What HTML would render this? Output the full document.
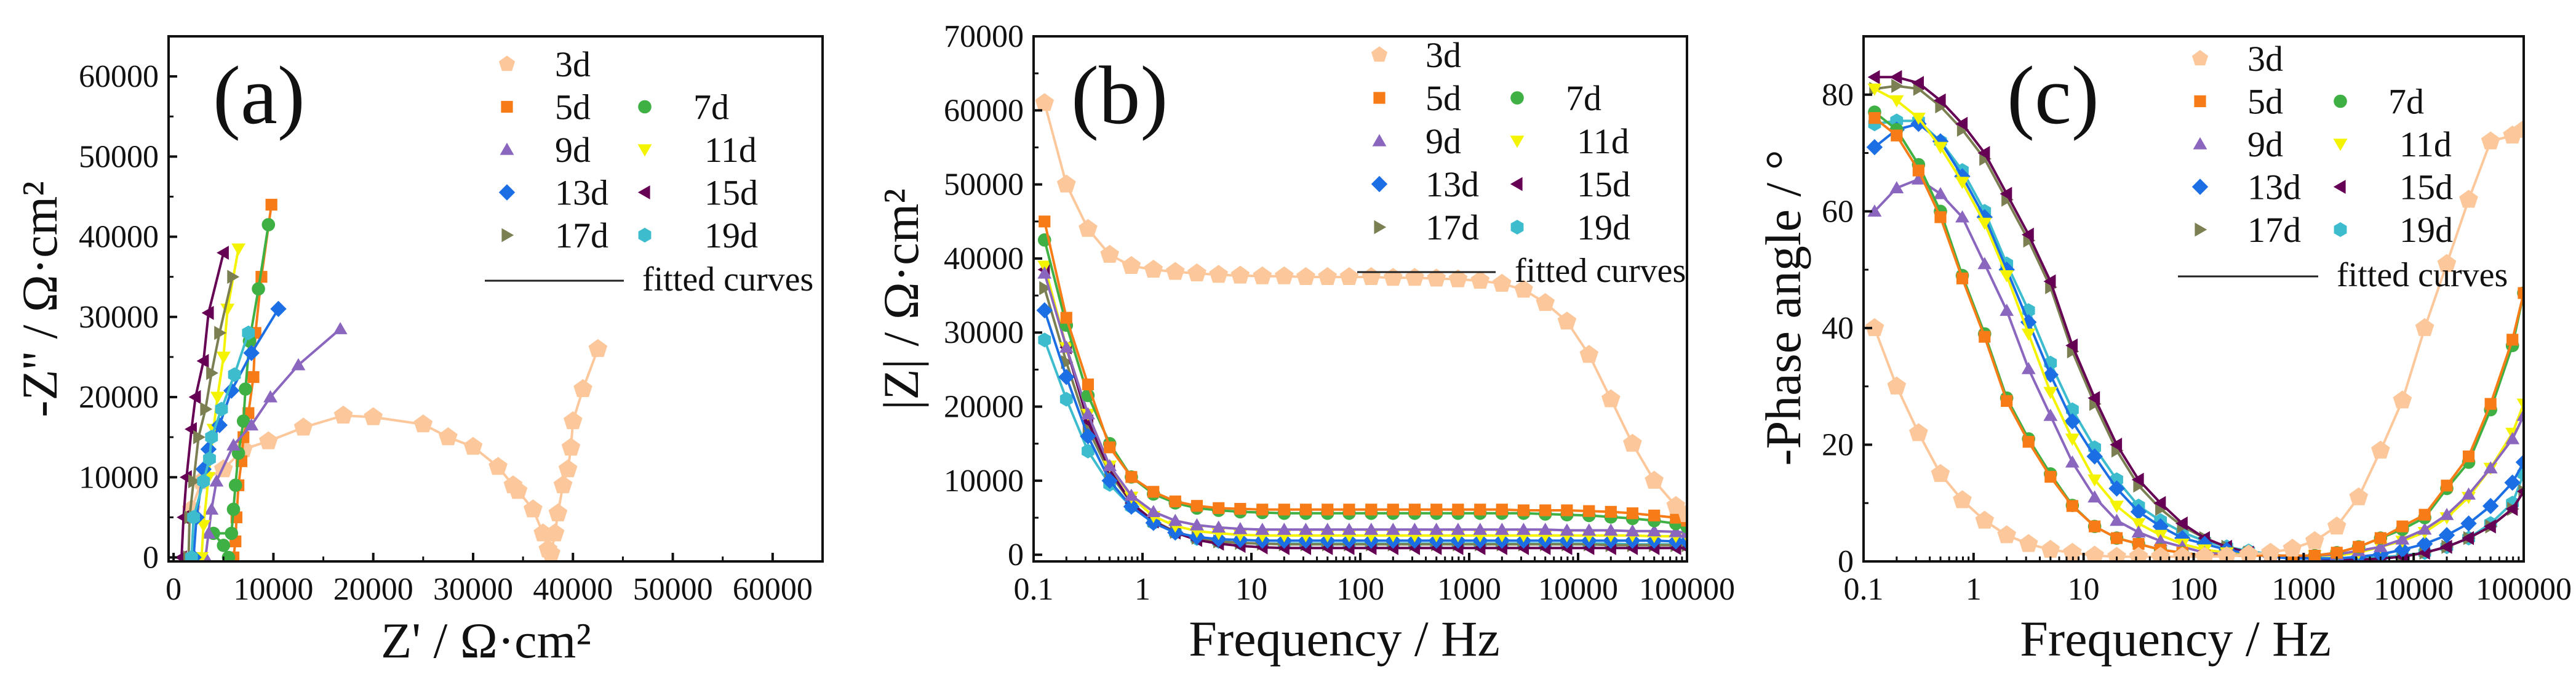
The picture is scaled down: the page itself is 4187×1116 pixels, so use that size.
<!DOCTYPE html>
<html><head><meta charset="utf-8"><style>
html,body{margin:0;padding:0;background:#fff;}
svg{display:block;}
svg text{font-family:"Liberation Serif","Times New Roman",Times,"DejaVu Serif",serif !important;}
</style></head><body>
<svg id="fig" width="4187" height="1116" viewBox="0 0 4187 1116" xmlns="http://www.w3.org/2000/svg"></svg>
<script>
// ---------- data ----------
const seriesNames=['3d','5d','7d','9d','11d','13d','15d','17d','19d'];
const freqs=[0.126,0.2,0.316,0.5,0.79,1.26,2,3.16,5,7.9,12.6,20,31.6,50,79,126,200,316,500,790,1260,2000,3160,5000,7900,12600,20000,31600,50000,79000,100000];
// |Z| in kOhm·cm2
const zMod3d=[61,50,44,40.5,39,38.5,38.2,38,37.8,37.7,37.6,37.6,37.5,37.5,37.5,37.5,37.4,37.4,37.3,37.2,37,36.6,35.8,34,31.5,27,21,15,10,6.6,5.5];
const zMod5d=[45,32,23,14.5,10.5,8.5,7.2,6.6,6.3,6.2,6.1,6.1,6.1,6.1,6.1,6.1,6.1,6.1,6.1,6.1,6.1,6.1,6.0,6.0,6.0,5.9,5.8,5.6,5.3,5.0,4.6];
const zMod7d=[42.5,31,21.5,15,10.5,8.2,7,6.3,6,5.8,5.7,5.6,5.6,5.6,5.6,5.6,5.6,5.6,5.6,5.6,5.6,5.6,5.6,5.5,5.4,5.3,5.1,4.9,4.6,4.2,3.8];
const zMod9d=[38,28,19,12,8,5.8,4.6,4,3.7,3.5,3.4,3.4,3.4,3.4,3.4,3.4,3.4,3.4,3.4,3.4,3.4,3.4,3.4,3.4,3.3,3.3,3.3,3.2,3.2,3.1,3.0];
const zMod11d=[39,28,19,12,7.8,5.2,3.9,3.2,2.9,2.7,2.6,2.6,2.6,2.6,2.6,2.6,2.6,2.6,2.6,2.6,2.6,2.6,2.6,2.6,2.6,2.6,2.6,2.6,2.5,2.5,2.5];
const zMod13d=[33,24,16,10,6.5,4.3,3,2.4,2.1,2,1.9,1.9,1.9,1.9,1.9,1.9,1.9,1.9,1.9,1.9,1.9,1.9,1.9,1.9,1.9,1.9,1.9,1.9,1.9,1.8,1.8];
const zMod15d=[38.5,28,18,11.5,7,4.5,3,2,1.5,1.2,1,0.9,0.9,0.9,0.9,0.9,0.9,0.9,0.9,0.9,0.9,0.9,0.9,0.9,0.9,0.9,0.9,0.9,0.9,0.9,0.9];
const zMod17d=[36,26,17,11,7,4.6,3.1,2.3,1.8,1.6,1.5,1.4,1.4,1.4,1.4,1.4,1.4,1.4,1.4,1.4,1.4,1.4,1.4,1.4,1.4,1.4,1.3,1.3,1.3,1.3,1.3];
const zMod19d=[29,21,14,9.5,6.5,4.3,3,2.2,1.8,1.6,1.5,1.5,1.5,1.5,1.5,1.5,1.5,1.5,1.5,1.5,1.5,1.5,1.5,1.5,1.5,1.5,1.5,1.4,1.4,1.4,1.4];
// -phase in degrees
const phase3d=[40,30,22,15,10.5,7,4.5,3,2,1.5,1,0.8,0.8,0.8,0.8,0.8,0.9,1.2,1.5,2.2,3.5,6,11,19,27.6,40,51,62,72,73,74];
const phase5d=[76,73,67,59,48.5,38.5,27.5,20.5,14.5,9.5,6,4,3,2,1.5,1,1,1,1,1,1,1.5,2.5,4,6,8,13,18,27,38,46];
const phase7d=[77,74,68,60,49,39,28,21,15,9.6,6,4,3,2,1.5,1,1,1,1,1,1,1.5,2.5,4,5.5,7.5,12.5,17,26,37,46];
const phase9d=[60,64,65.5,63,59,51,43,33,25,17,11,7,5,3.5,2.5,1.5,1.2,1,1,1,1,1.2,1.8,2.5,3.8,5.5,8,11.5,16,21,25];
const phase11d=[81,79,76,71,65,58,49,39,29,21,14,9.5,6.5,4.5,3,2,1.5,1,1,1,1,1,1.5,2.5,3.5,5,7.5,11,16,22,27];
const phase13d=[71,74,75,72,66,59,50,41,32,24,18,12.5,8.5,6,4,3,2,1.3,0.8,0.5,0.5,0.5,0.8,1.2,2,3,4.5,6.5,9.5,13.5,17];
const phase15d=[83,83,82,79,75,70,63,56,48,37,28,20,14,10,6.5,4,2.5,1.5,1,0.6,0.5,0.3,0.3,0.5,0.8,1.5,2.5,4,6,9,12];
const phase17d=[81,81.5,81,78,74,69,62,55,47,36,27,19,13,9,6,4,2.5,1.5,1,0.6,0.5,0.3,0.3,0.5,0.8,1.5,2.5,4,6,9,12];
const phase19d=[75,75.5,75.5,72,67,60,51,43,34,26,19.5,14,9.5,7,5,3.5,2.5,1.8,1.2,0.8,0.6,0.5,0.5,0.7,1,1.5,2.5,4,6.5,10,15];
// Nyquist (kOhm·cm2)
const nyqX3d=[1.8,2.8,5,7,9.5,13,17,20,25,27.5,30,32.5,34,34.5,36,37,37.5,37.8,38.2,38.5,39,39.5,39.8,40,41,42.5];
const nyqY3d=[6,9.5,11,13.5,14.5,16.2,17.7,17.5,16.6,15,13.8,11.3,9,8.3,6,3,1,0.5,3,5.5,9,11,13.7,17,21,26];
const nyqX5d=[6,6.2,6.3,6.5,6.8,7,7.5,8,8.2,8.8,9.8];
const nyqY5d=[0,2,5,9,12,15,18,22.5,28,35,44];
const nyqX7d=[5.5,5,4,5.8,6,6.2,6.5,7,7.2,7.6,8.5,9.5];
const nyqY7d=[0,1.5,3,3,6,9,13,17,21,27,33.5,41.5];
const nyqX9d=[3.2,3.5,3.8,4.3,6,7.8,9.7,12.5,16.7];
const nyqY9d=[0,3,6,9.5,14,16.5,20,24,28.5];
const nyqX11d=[2.8,3,3.5,4,4.4,5,5.4,6.5];
const nyqY11d=[0,4,10,16,20,25,31,38.5];
const nyqX13d=[2,2.3,3,3.5,4.6,5.8,7.8,10.5];
const nyqY13d=[0,5,11,13.5,16.5,20.8,25.5,31];
const nyqX15d=[0.8,1,1.3,1.8,2.2,3,3.5,5];
const nyqY15d=[0,5,10,16,20,24.5,30.5,38];
const nyqX17d=[1.5,1.6,2,2.5,3.2,3.8,4.6,5.9];
const nyqY17d=[0,5,9.5,15,18.5,23,28,35];
const nyqX19d=[1.8,2,3,3.6,3.8,4.8,6.1,7.5];
const nyqY19d=[0,5,9.5,12.3,15,18.5,22.8,28];
const xTicksA=[0,10000,20000,30000,40000,50000,60000];
const yTicksA=[0,10000,20000,30000,40000,50000,60000];
const yTicksB=[0,10000,20000,30000,40000,50000,60000,70000];
const xTicksLog=[0.1,1,10,100,1000,10000,100000];
const yTicksC=[0,20,40,60,80];

const zModAll=[zMod3d,zMod5d,zMod7d,zMod9d,zMod11d,zMod13d,zMod15d,zMod17d,zMod19d];
const phaseAll=[phase3d,phase5d,phase7d,phase9d,phase11d,phase13d,phase15d,phase17d,phase19d];
const nyqXAll=[nyqX3d,nyqX5d,nyqX7d,nyqX9d,nyqX11d,nyqX13d,nyqX15d,nyqX17d,nyqX19d];
const nyqYAll=[nyqY3d,nyqY5d,nyqY7d,nyqY9d,nyqY11d,nyqY13d,nyqY15d,nyqY17d,nyqY19d];
const colors=['#fcc79a','#f77c17','#3fb043','#8a66bf','#f4f400','#1c6ee4','#650054','#7b7f52','#3cbccd'];
const shapes=['pent','sq','circ','tri','tridown','diam','left','right','hex'];

// ---------- helpers ----------
const NS='http://www.w3.org/2000/svg';
const svg=document.getElementById('fig');
const FONT='"Liberation Serif","Times New Roman",Times,"DejaVu Serif",serif';
function mk(tag,attrs,parent){const e=document.createElementNS(NS,tag);for(const k in attrs)e.setAttribute(k,attrs[k]);(parent||svg).appendChild(e);return e;}
function poly(cx,cy,r,n,rot){let p=[];for(let i=0;i<n;i++){const a=rot+i*2*Math.PI/n;p.push((cx+r*Math.cos(a)).toFixed(1)+','+(cy+r*Math.sin(a)).toFixed(1));}return p.join(' ');}
function marker(shape,cx,cy,s,color,parent){
  let e;
  if(shape==='circ'){e=mk('circle',{cx:cx,cy:cy,r:s*0.9,fill:color},parent);}
  else if(shape==='sq'){e=mk('rect',{x:cx-s*0.8,y:cy-s*0.8,width:s*1.6,height:s*1.6,fill:color},parent);}
  else if(shape==='pent'){e=mk('polygon',{points:poly(cx,cy,s*1.15,5,-Math.PI/2),fill:color},parent);}
  else if(shape==='hex'){e=mk('polygon',{points:poly(cx,cy,s,6,Math.PI/6),fill:color},parent);}
  else if(shape==='tri'){e=mk('polygon',{points:poly(cx,cy+2,s*1.1,3,-Math.PI/2),fill:color},parent);}
  else if(shape==='tridown'){e=mk('polygon',{points:poly(cx,cy-2,s*1.1,3,Math.PI/2),fill:color},parent);}
  else if(shape==='left'){e=mk('polygon',{points:poly(cx+2,cy,s*1.1,3,Math.PI),fill:color},parent);}
  else if(shape==='right'){e=mk('polygon',{points:poly(cx-2,cy,s*1.1,3,0),fill:color},parent);}
  else {e=mk('polygon',{points:poly(cx,cy,s*1.1,4,0),fill:color},parent);}
  return e;
}
function txt(x,y,s,size,anchor,parent,extra){const e=mk('text',Object.assign({x:x,y:y,'font-size':size,'text-anchor':anchor||'start',fill:'#111'},extra||{}),parent);e.style.fontFamily=FONT;e.textContent=s;return e;}

function makePanel(id,P){
  const g=mk('g',{});
  
  
  const clip=mk('clipPath',{id:'clip-'+id},g);
  mk('rect',{x:P.x0,y:P.y0,width:P.x1-P.x0,height:P.y1-P.y0},clip);
  return g;
}
function axisFns(P){
  const sx=P.log?(v=>P.x0+(Math.log10(v)-Math.log10(P.xmin))/(Math.log10(P.xmax)-Math.log10(P.xmin))*(P.x1-P.x0))
                :(v=>P.x0+(v-P.xmin)/(P.xmax-P.xmin)*(P.x1-P.x0));
  const sy=v=>P.y1-(v-P.ymin)/(P.ymax-P.ymin)*(P.y1-P.y0);
  return [sx,sy];
}
function drawFrame(g,P,sx,sy,xt,yt,yMinorStep,xLabelFmt){
  const ax=mk('g',{},g);
  
  
  xt.forEach(v=>{const x=sx(v);mk('line',{x1:x,x2:x,y1:P.y1,y2:P.y1-14,stroke:'#111','stroke-width':4},ax);
    const t=txt(x,P.y1+62,xLabelFmt(v),52,'middle',ax);
    
    });
  if(P.log){for(let d=Math.log10(P.xmin);d<Math.log10(P.xmax);d++){for(let k=2;k<10;k++){const x=sx(k*Math.pow(10,d));mk('line',{x1:x,x2:x,y1:P.y1,y2:P.y1-8,stroke:'#111','stroke-width':3},ax);}}}
  else{for(let i=0;i<xt.length-1;i++){const x=sx((xt[i]+xt[i+1])/2);mk('line',{x1:x,x2:x,y1:P.y1,y2:P.y1-8,stroke:'#111','stroke-width':3},ax);}}
  yt.forEach(v=>{const y=sy(v);mk('line',{x1:P.x0,x2:P.x0+14,y1:y,y2:y,stroke:'#111','stroke-width':4},ax);
    const t=txt(P.x0-16,y+17,String(v),52,'end',ax);
    
    });
  for(let v=yt[0]+yMinorStep;v<P.ymax;v+=yMinorStep*2){const y=sy(v);mk('line',{x1:P.x0,x2:P.x0+8,y1:y,y2:y,stroke:'#111','stroke-width':3},ax);}
  mk('rect',{x:P.x0,y:P.y0,width:P.x1-P.x0,height:P.y1-P.y0,fill:'none',stroke:'#111','stroke-width':4},ax);
}
function drawLegend(g,L){
  const lg=mk('g',{},g);
  
  
  const slots=[[0,0],[1,0],[1,1],[2,0],[2,1],[3,0],[3,1],[4,0],[4,1]];
  seriesNames.forEach((n,i)=>{
    const [r,c]=slots[i];
    const y=L.y+r*L.dy;
    const mx=c?L.mx2:L.mx1, tx=c?L.tx2:L.tx1;
    const m=marker(shapes[i],mx,y,12,colors[i],lg);
    
    
    const t=txt(tx+(n.length>2&&c?18:0),y+20,n,58,'start',lg);
    
    
  });
  const ln=mk('line',{x1:L.lx1,x2:L.lx2,y1:L.ly,y2:L.ly,stroke:'#222','stroke-width':3},lg);
  
  
  const t=txt(L.ltx,L.ly+16,'fitted curves',56,'start',lg);
  
  
}
function drawSeries(g,id,xs,ys,sx,sy,i,ms){
  const sg=mk('g',{'clip-path':'url(#clip-'+id+')'},g);
  
  
  const pts=xs.map((x,k)=>sx(x).toFixed(1)+','+sy(ys[k]).toFixed(1)).join(' ');
  const pl=mk('polyline',{points:pts,fill:'none',stroke:colors[i],'stroke-width':4,'stroke-linejoin':'round'},sg);
  
  
  xs.forEach((x,k)=>{
    const m=marker(shapes[i],sx(x),sy(ys[k]),ms,colors[i],sg);
    
    
  });
}
const fmtLog=v=>v<1?'0.1':String(v);

// ---------- panel (a) Nyquist ----------
(function(){
  const P={x0:274,x1:1337,y0:59,y1:912,xmin:-500,xmax:65000,ymin:-500,ymax:65000};
  const g=makePanel('a',P);const [sx,sy]=axisFns(P);
  for(let i=0;i<9;i++){drawSeries(g,'a',nyqXAll[i].map(v=>v*1000),nyqYAll[i].map(v=>v*1000),sx,sy,i,i===0?14:12);}
  drawFrame(g,P,sx,sy,xTicksA,yTicksA,5000,v=>String(v));
  drawLegend(g,{y:104,dy:69.5,mx1:824,tx1:902,mx2:1048,tx2:1127,lx1:788,lx2:1014,ly:456,ltx:1044});
  const l=txt(346,200,'(a)',135,'start',g);
  
  
  const xt=txt(790,1068,"Z' / Ω·cm²",82,'middle',g);
  
  
  const yt=txt(0,0,"-Z'' / Ω·cm²",82,'middle',g,{transform:'translate(92,486) rotate(-90)'});
  
  
})();

// ---------- panel (b) |Z| ----------
(function(){
  const P={x0:1680,x1:2742,y0:59,y1:912,xmin:0.1,xmax:100000,ymin:-900,ymax:70000,log:true};
  const g=makePanel('b',P);const [sx,sy]=axisFns(P);
  for(let i=8;i>=0;i--){drawSeries(g,'b',freqs,zModAll[i].map(v=>v*1000),sx,sy,i,i===0?14:12);}
  drawFrame(g,P,sx,sy,xTicksLog,yTicksB,5000,fmtLog);
  drawLegend(g,{y:89,dy:70,mx1:2242,tx1:2317,mx2:2466,tx2:2545,lx1:2206,lx2:2431,ly:442,ltx:2462});
  const l=txt(1741,200,'(b)',135,'start',g);
  
  
  const xt=txt(2185,1065,'Frequency / Hz',82,'middle',g);
  
  
  const yt=txt(0,0,'|Z| / Ω·cm²',82,'middle',g,{transform:'translate(1492,486) rotate(-90)'});
  
  
})();

// ---------- panel (c) phase ----------
(function(){
  const P={x0:3029,x1:4102,y0:59,y1:912,xmin:0.1,xmax:100000,ymin:0,ymax:90,log:true};
  const g=makePanel('c',P);const [sx,sy]=axisFns(P);
  for(let i=8;i>=0;i--){drawSeries(g,'c',freqs,phaseAll[i],sx,sy,i,i===0?14:12);}
  drawFrame(g,P,sx,sy,xTicksLog,yTicksC,10,fmtLog);
  drawLegend(g,{y:95,dy:69.5,mx1:3576,tx1:3653,mx2:3804,tx2:3882,lx1:3540,lx2:3768,ly:449,ltx:3798});
  const l=txt(3262,200,'(c)',135,'start',g);
  
  
  const xt=txt(3536,1065,'Frequency / Hz',82,'middle',g);
  
  
  const yt=txt(0,0,'-Phase angle / °',82,'middle',g,{transform:'translate(2926,500) rotate(-90)'});
  
  
})();
</script>
</body></html>
